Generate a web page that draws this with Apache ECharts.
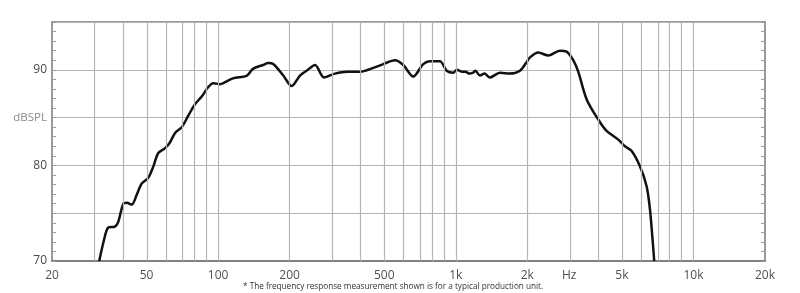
<!DOCTYPE html>
<html>
<head>
<meta charset="utf-8">
<script src="https://cdn.jsdelivr.net/npm/echarts@6/dist/echarts.min.js"></script>
<style>html,body{margin:0;padding:0;background:#fff;}#c{width:800px;height:293px;}</style>
</head>
<body>
<div id="c"></div>
<script>
// Frequency (Hz) and SPL (dB)
const freqs = [31.6, 33.1, 34.5, 36.8, 38.0, 39.9, 41.3, 43.3, 45.4, 47.7, 50.8, 53.4, 56.0, 59.8, 62.7, 65.9, 70.3, 74.9, 79.9, 85.3, 90.9, 95.4, 101.8, 106.9, 115.5, 132.3, 140.1, 154.4, 162.6, 170.6, 188.0, 203.9, 221.0, 235.8, 255.7, 278.9, 310.1, 348.5, 395.2, 449.5, 495.2, 554.6, 601.2, 662.3, 729.6, 778.5, 857.6, 915.3, 975.9, 1010, 1060, 1100, 1140, 1184, 1210, 1264, 1320, 1392, 1534, 1690, 1862, 1986, 2051, 2224, 2449, 2742, 2926, 3120, 3275, 3554, 3975, 4312, 4826, 5149, 5496, 5955, 6355, 6561, 6731, 6838];
const spl = [70.0, 72.2, 73.5, 73.6, 74.1, 76.0, 76.1, 75.9, 76.9, 78.1, 78.7, 79.9, 81.3, 81.8, 82.4, 83.4, 84.0, 85.2, 86.4, 87.2, 88.2, 88.6, 88.5, 88.7, 89.1, 89.4, 90.1, 90.5, 90.7, 90.6, 89.4, 88.3, 89.4, 89.9, 90.5, 89.2, 89.6, 89.8, 89.8, 90.2, 90.6, 91.0, 90.5, 89.3, 90.6, 90.9, 90.9, 89.9, 89.7, 90.0, 89.8, 89.8, 89.6, 89.7, 89.9, 89.4, 89.6, 89.2, 89.7, 89.6, 89.9, 90.8, 91.3, 91.8, 91.5, 92.0, 91.9, 91.0, 89.8, 86.9, 84.8, 83.6, 82.7, 82.0, 81.5, 79.9, 77.8, 75.4, 72.2, 70.0];

// Axis tick labels
const xTickFreqs = [20, 50, 100, 200, 500, 1000, 2000, 3000, 5000, 10000, 20000];
const xTickLabels = ['20', '50', '100', '200', '500', '1k', '2k', 'Hz', '5k', '10k', '20k'];
const yTickValues = [70, 80, 85, 90];
const yTickLabels = ['70', '80', 'dBSPL', '90'];
// Vertical grid lines (Hz)
const gridFreqs = [30, 40, 50, 60, 70, 80, 90, 100, 200, 300, 400, 500, 600, 700, 800, 900, 1000, 2000, 3000, 4000, 5000, 6000, 7000, 8000, 9000, 10000];

const lg = Math.log10;
const data = freqs.map((f, i) => [lg(f), spl[i]]);

const chart = echarts.init(document.getElementById('c'), null, {renderer: 'canvas'});
const font = '"Open Sans", "Noto Sans", sans-serif';

const yAxisBase = {
  type: 'value', min: 70, max: 95, interval: 5,
  axisTick: {show: true, inside: true, length: 4, lineStyle: {color: '#999'}},
  minorTick: {show: true, splitNumber: 5, length: 4, lineStyle: {color: '#999'}},
  axisLine: {show: true, lineStyle: {color: '#999', width: 2}}
};

chart.setOption({
  animation: false,
  backgroundColor: '#fff',
  grid: {left: 52, right: 35, top: 22, bottom: 32, show: true, borderColor: '#9a9a9a', borderWidth: 2},
  title: {
    text: '* The frequency response measurement shown is for a typical production unit.',
    left: 243, top: 283, padding: 0,
    textStyle: {fontSize: 8.2, fontWeight: 'normal', color: '#333', fontFamily: font}
  },
  xAxis: {
    type: 'value', min: lg(20), max: lg(20000),
    splitLine: {show: false},
    axisTick: {show: false},
    axisLine: {show: true, lineStyle: {color: '#808080', width: 2}},
    axisLabel: {
      customValues: xTickFreqs.map(lg),
      margin: 9, fontSize: 12, color: '#505050', fontFamily: font,
      formatter: function (v) {
        let best = 0, d = Infinity;
        xTickFreqs.forEach((f, i) => { const dd = Math.abs(lg(f) - v); if (dd < d) { d = dd; best = i; } });
        return xTickLabels[best];
      }
    }
  },
  yAxis: [
    Object.assign({}, yAxisBase, {
      position: 'left',
      splitLine: {show: true, lineStyle: {color: '#b4b4b4', width: 1.2}},
      axisLabel: {
        customValues: yTickValues, margin: 5, fontSize: 12, color: '#4a4a4a', fontFamily: font,
        formatter: function (v) {
          const i = yTickValues.indexOf(v);
          const t = i >= 0 ? yTickLabels[i] : '';
          return v === 85 ? '{u|' + t + '}' : t;
        },
        rich: {u: {color: '#8a8a8a', fontSize: 11.5, fontFamily: font}}
      }
    }),
    Object.assign({}, yAxisBase, {
      position: 'right',
      splitLine: {show: false},
      axisLabel: {show: false}
    })
  ],
  series: [{
    type: 'line',
    data: data,
    smooth: 0.3,
    showSymbol: false,
    lineStyle: {color: '#111', width: 2.5},
    markLine: {
      silent: true, symbol: 'none', animation: false,
      label: {show: false},
      lineStyle: {color: '#b4b4b4', width: 1.2, type: 'solid'},
      data: gridFreqs.map(f => ({xAxis: lg(f)}))
    },
    z: 3
  }]
});
</script>
</body>
</html>
